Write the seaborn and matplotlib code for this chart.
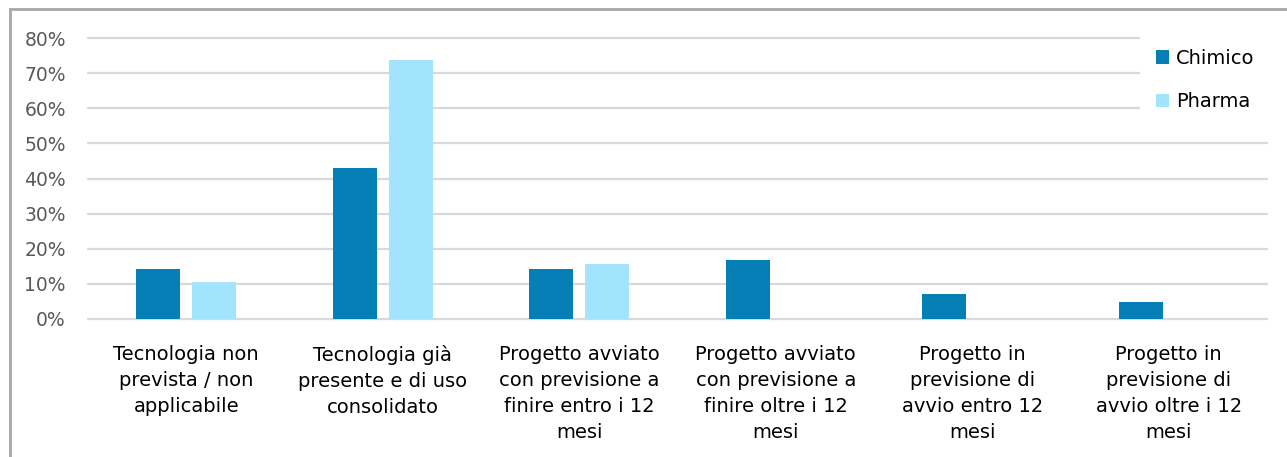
import pandas as pd
import seaborn as sns
import matplotlib.pyplot as plt
from matplotlib.patches import Rectangle
from matplotlib.ticker import PercentFormatter

# Categories and values (share of respondents)
categories = [
    "Tecnologia non\nprevista / non\napplicabile",
    "Tecnologia già\npresente e di uso\nconsolidato",
    "Progetto avviato\ncon previsione a\nfinire entro i 12\nmesi",
    "Progetto avviato\ncon previsione a\nfinire oltre i 12\nmesi",
    "Progetto in\nprevisione di\navvio entro 12\nmesi",
    "Progetto in\nprevisione di\navvio oltre i 12\nmesi",
]
chimico = [0.143, 0.429, 0.143, 0.167, 0.071, 0.048]
pharma = [0.105, 0.737, 0.158, 0.0, 0.0, 0.0]
series_names = ["Chimico", "Pharma"]
colors = ["#067FB6", "#A1E4FC"]

df = pd.DataFrame({
    "categoria": categories * 2,
    "valore": chimico + pharma,
    "settore": [series_names[0]] * 6 + [series_names[1]] * 6,
})

sns.set_theme(style="white")
plt.rcParams['font.family'] = ['DejaVu Sans']

fig = plt.figure(figsize=(12.87, 4.57), dpi=100)
ax = fig.add_axes([88 / 1287, 1 - 319 / 457, (1267 - 88) / 1287, (319 - 38) / 457])

sns.barplot(data=df, x="categoria", y="valore", hue="settore",
            palette=colors, width=0.57, gap=0.21, ax=ax, saturation=1,
            linewidth=0, edgecolor="none")

ax.set_ylim(0, 0.8)
ax.set_xlim(-0.5, 5.5)
ax.set_yticks([i / 10 for i in range(9)])
ax.yaxis.set_major_formatter(PercentFormatter(1.0, decimals=0))
ax.grid(axis="y", color="#D9D9D9", linewidth=1.6)
for gl in ax.get_ygridlines():
    gl.set_clip_on(False)
ax.set_axisbelow(True)
for s in ax.spines.values():
    s.set_visible(False)
ax.set_xlabel("")
ax.set_ylabel("")
ax.tick_params(axis="y", labelsize=13.5, labelcolor="#595959", length=0, pad=16)
ax.tick_params(axis="x", labelsize=14, labelcolor="#000000", length=0, pad=19)
for lbl in ax.get_xticklabels():
    lbl.set_linespacing(1.45)

leg = ax.legend(loc="upper left", bbox_to_anchor=(1140 / 1287, 1 - 33 / 457),
                bbox_transform=fig.transFigure, fontsize=14, frameon=True,
                handlelength=0.7, handleheight=0.7, handletextpad=0.35,
                labelspacing=1.27, borderpad=0.8, borderaxespad=0)
leg.get_frame().set_facecolor("white")
leg.get_frame().set_edgecolor("none")
leg.get_frame().set_alpha(1)
for t in leg.get_texts():
    t.set_color("#000000")

# grey outer frame of the chart
fig.patches.append(Rectangle((9.5 / 1287, -0.1), 1.2, 1 - 9 / 457 + 0.1,
                             transform=fig.transFigure, fill=False,
                             edgecolor="#A6A6A6", linewidth=2))

plt.savefig("out.png", dpi=100)
